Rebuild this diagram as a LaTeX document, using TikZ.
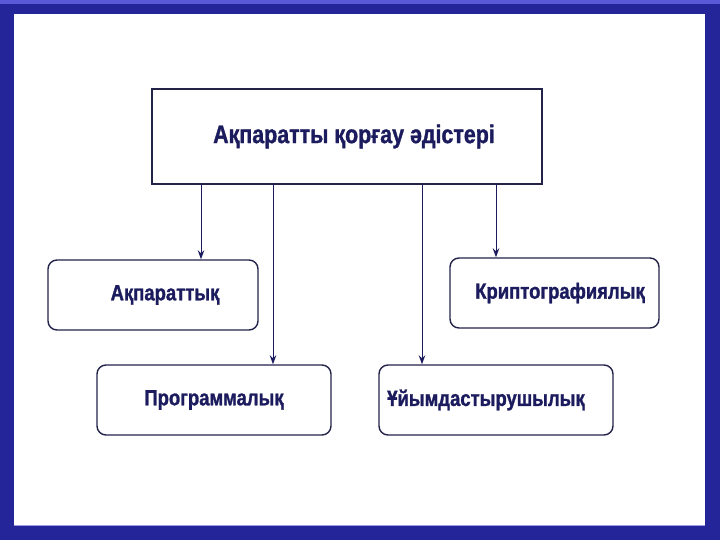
\documentclass[tikz,border=0pt]{standalone}
\usepackage{fontspec}
\setmainfont{Liberation Sans}
\newfontfamily\narrowbold[FakeStretch=0.84,FakeBold=1.2]{Liberation Sans Bold}
\usetikzlibrary{arrows.meta}
\definecolor{frameblue}{HTML}{25259A}
\definecolor{framelight}{HTML}{5A5AD8}
\definecolor{ink}{HTML}{1B1B5E}
\definecolor{edge}{HTML}{23234A}
\begin{document}
\begin{tikzpicture}[x=1pt,y=-1pt,
  topbox/.style={draw=edge,line width=1.4pt,minimum width=390pt,minimum height=95pt,inner sep=0pt,font=\narrowbold\fontsize{25.5}{30}\selectfont,text=ink},
  rbox/.style={draw=edge,line width=1.4pt,rounded corners=9pt,inner sep=0pt,font=\narrowbold\fontsize{22}{26}\selectfont,text=ink},
  conn/.style={draw=ink,line width=1pt,-{Stealth[length=9pt,width=6.5pt]}}]
\useasboundingbox (0,0) rectangle (720,540);
\fill[frameblue] (0,0) rectangle (720,540);
\fill[framelight] (0,0) rectangle (720,4);
\fill[white] (14,14) rectangle (705,525);
\draw[framelight!60!white,line width=0.8pt] (14,525) -- (705,525);
\node[topbox] (top) at (347,136.5) {\hspace*{14pt}Ақпаратты қорғау әдістері};
\node[rbox,minimum width=210pt,minimum height=70pt] (a) at (153,295) {\hspace*{24pt}Ақпараттық};
\node[rbox,minimum width=209pt,minimum height=70pt] (k) at (554.5,293) {\hspace*{11pt}Криптографиялық};
\node[rbox,minimum width=234pt,minimum height=70pt] (p) at (214,400) {Программалық};
\node[rbox,minimum width=234pt,minimum height=70pt] (u) at (496,400) {Ұйымдастырушылық\hspace*{20pt}};
\coordinate (s1) at (201,184);
\coordinate (s2) at (273,184);
\coordinate (s3) at (422,184);
\coordinate (s4) at (496,184);
\draw[conn] (s1) -- (s1 |- a.north);
\draw[conn] (s2) -- (s2 |- p.north);
\draw[conn] (s3) -- (s3 |- u.north);
\draw[conn] (s4) -- (s4 |- k.north);
\end{tikzpicture}
\end{document}
